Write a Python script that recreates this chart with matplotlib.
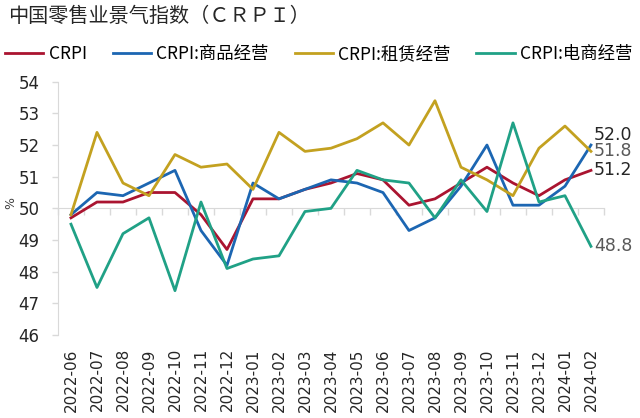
import numpy as np
import matplotlib.pyplot as plt

# 数据
months = ['2022-06', '2022-07', '2022-08', '2022-09', '2022-10', '2022-11', '2022-12',
          '2023-01', '2023-02', '2023-03', '2023-04', '2023-05', '2023-06', '2023-07',
          '2023-08', '2023-09', '2023-10', '2023-11', '2023-12', '2024-01', '2024-02']
crpi = [49.7, 50.2, 50.2, 50.5, 50.5, 49.8, 48.7, 50.3, 50.3, 50.6, 50.8,
        51.1, 50.9, 50.1, 50.3, 50.8, 51.3, 50.8, 50.4, 50.9, 51.2]
goods = [49.8, 50.5, 50.4, 50.8, 51.2, 49.3, 48.2, 50.8, 50.3, 50.6, 50.9,
         50.8, 50.5, 49.3, 49.7, 50.7, 52.0, 50.1, 50.1, 50.7, 52.0]
lease = [49.8, 52.4, 50.8, 50.4, 51.7, 51.3, 51.4, 50.6, 52.4, 51.8, 51.9,
         52.2, 52.7, 52.0, 53.4, 51.3, 50.9, 50.4, 51.9, 52.6, 51.8]
ecom = [49.5, 47.5, 49.2, 49.7, 47.4, 50.2, 48.1, 48.4, 48.5, 49.9, 50.0,
        51.2, 50.9, 50.8, 49.7, 50.9, 49.9, 52.7, 50.2, 50.4, 48.8]

names = ['CRPI', 'CRPI:商品经营', 'CRPI:租赁经营', 'CRPI:电商经营']
colors = ['#AA1430', '#1C66B2', '#C3A120', '#20A186']
cjk = ['Noto Sans CJK SC', 'DejaVu Sans']
grey = '#D9D9D9'

fig = plt.figure(figsize=(6.4, 4.18), dpi=100)
ax = fig.add_axes([0.0906, 0.1986, 0.8531, 0.6059])

x = np.arange(len(months))
series = [crpi, goods, lease, ecom]
for vals, name, c in zip(series, names, colors):
    ax.plot(x, vals, color=c, lw=2.0, label=name)

ax.set_xlim(-0.5, len(months) - 0.5)
ax.set_ylim(46, 54)
ax.set_yticks(range(46, 55))

for s in ['top', 'right', 'bottom']:
    ax.spines[s].set_visible(False)
ax.spines['left'].set_color(grey)
ax.tick_params(axis='y', length=4.3, width=1, color=grey, labelsize=12,
               labelcolor='#262626', pad=9)
ax.set_xticks(x, months, rotation=90, fontsize=11, color='#262626')
ax.tick_params(axis='x', length=0, pad=9.5)

# 横轴线在50处
sec = ax.secondary_xaxis(0.5)
sec.set_alignment('bottom')
sec.spines['bottom'].set_color(grey)
sec.set_xticks(np.arange(-0.5, len(months), 1))
sec.tick_params(direction='out', length=5, width=1, color=grey,
                labelbottom=False, labeltop=False)

ax.set_ylabel('%', fontsize=9, rotation=90, color='#404040')
ax.yaxis.set_label_coords(-0.074, 0.52)

# 末端数值
last = len(months) - 1
label_cols = ['#262626', '#262626', '#595959', '#595959']
dys = [0, 7.5, 0, 0]
for vals, c, dy in zip(series, label_cols, dys):
    ax.annotate(f'{vals[-1]:.1f}', (last, vals[-1]), xytext=(2, dy),
                textcoords='offset points', va='center', ha='left',
                fontsize=12.5, color=c, annotation_clip=False)

fig.text(8 / 640, 1 - 16 / 418, '中国零售业景气指数（ＣＲＰＩ）', fontsize=14.5,
         family=cjk, va='center', ha='left', color='#262626')

fig.legend(loc='center left', bbox_to_anchor=(0.0, 1 - 54 / 418), ncol=4,
           frameon=False, prop={'family': cjk, 'size': 12.5},
           handlelength=2.2, handletextpad=0.3, columnspacing=1.5,
           borderaxespad=0, borderpad=0.3)

fig.savefig('out.png', dpi=100)
